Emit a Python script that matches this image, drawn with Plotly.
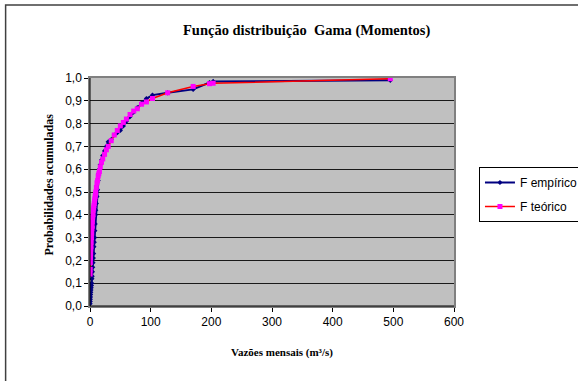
import plotly.graph_objects as go

# Monthly flows (m³/s), sorted, with empirical and fitted Gamma (method of moments) CDF
vazoes = [0.2, 0.4, 0.6, 0.8, 1.0, 1.3, 1.6, 2.0, 2.4, 2.8, 3.2, 3.6, 4.0, 4.5, 5.0,
          5.5, 6.0, 6.5, 7.0, 7.5, 8.0, 8.5, 9.0, 9.5, 10.5, 11.5, 12.5, 13.5, 14.5,
          15.5, 17, 19, 21, 24, 27, 30, 35, 40, 45, 50, 55, 60, 66, 72, 78, 85, 93,
          103, 128, 170, 197, 203, 495]
f_empirico = [0.01, 0.02, 0.03, 0.04, 0.05, 0.06, 0.07, 0.08, 0.09, 0.10, 0.12, 0.13,
              0.15, 0.17, 0.19, 0.21, 0.23, 0.26, 0.28, 0.30, 0.33, 0.36, 0.40, 0.42,
              0.45, 0.48, 0.51, 0.55, 0.58, 0.60, 0.62, 0.64, 0.66, 0.68, 0.70, 0.72,
              0.73, 0.75, 0.76, 0.77, 0.79, 0.81, 0.83, 0.85, 0.87, 0.89, 0.91, 0.925,
              0.935, 0.95, 0.98, 0.985, 0.99]
f_teorico = [0.14, 0.16, 0.19, 0.21, 0.23, 0.25, 0.26, 0.28, 0.30, 0.32, 0.34, 0.35,
             0.37, 0.39, 0.40, 0.42, 0.43, 0.44, 0.45, 0.46, 0.47, 0.48, 0.49, 0.50,
             0.52, 0.54, 0.55, 0.57, 0.58, 0.59, 0.61, 0.63, 0.645, 0.665, 0.685, 0.70,
             0.725, 0.75, 0.77, 0.79, 0.805, 0.82, 0.84, 0.855, 0.865, 0.885, 0.895,
             0.91, 0.935, 0.963, 0.975, 0.977, 0.997]

x_ticks = [0, 100, 200, 300, 400, 500, 600]

# plot-area geometry in pixels
L, R, T, B = 89.5, 454.0, 78.0, 306.0
W, H = 578, 381
pw, ph = R - L, B - T


def px(xp):
    return (xp - L) / pw


def py(yp):
    return (B - yp) / ph


fig = go.Figure()
fig.add_trace(go.Scatter(
    x=vazoes, y=f_empirico, mode="lines+markers", name="F empírico",
    legendgroup="emp",
    line=dict(color="#000080", width=2),
    marker=dict(color="#000080", size=4, symbol="diamond"),
))
fig.add_trace(go.Scatter(
    x=vazoes, y=f_teorico, mode="lines+markers", name="F teórico",
    legendgroup="teo",
    line=dict(color="#FF0000", width=1.5),
    marker=dict(color="#FF00FF", size=5, symbol="square"),
))

serif = "Liberation Serif, Times New Roman, serif"
sans = "Liberation Sans, Arial, sans-serif"

fig.update_layout(
    width=W, height=H,
    margin=dict(l=L, r=W - R, t=T, b=H - B, pad=0, autoexpand=False),
    paper_bgcolor="white",
    plot_bgcolor="#C0C0C0",
    separators=",.",
    showlegend=True,
    legend=dict(
        x=px(479), y=py(167), xanchor="left", yanchor="top",
        bordercolor="#000000", borderwidth=1, bgcolor="white",
        font=dict(family=sans, size=12, color="#000000"),
        itemwidth=30, tracegroupgap=5,
    ),
    xaxis=dict(
        range=[0, 600], tickvals=x_ticks, showgrid=False, zeroline=False,
        showline=True, linecolor="#808080", linewidth=1.5, mirror=True,
        ticks="outside", ticklen=4, tickcolor="#000000",
        tickfont=dict(family=sans, size=12, color="#000000"),
    ),
    yaxis=dict(
        range=[0, 1], dtick=0.1, tickformat=".1f", showgrid=True,
        gridcolor="#1a1a1a", gridwidth=1, zeroline=False,
        showline=True, linecolor="#808080", linewidth=1.5, mirror=True,
        ticks="outside", ticklen=4, tickcolor="#000000",
        tickfont=dict(family=sans, size=12, color="#000000"),
    ),
    annotations=[
        dict(text="<b>Função distribuição  Gama (Momentos)</b>", xref="paper", yref="paper",
             x=px(306), y=py(30), showarrow=False, xanchor="center", yanchor="middle",
             font=dict(family=serif, size=14.5, color="#000000")),
        dict(text="<b>Vazões mensais (m³/s)</b>", xref="paper", yref="paper",
             x=px(282), y=py(352), showarrow=False, xanchor="center", yanchor="middle",
             font=dict(family=serif, size=11, color="#000000")),
        dict(text="<b>Probabilidades acumuladas</b>", xref="paper", yref="paper",
             x=px(48), y=py(185), showarrow=False, xanchor="center", yanchor="middle",
             textangle=-90,
             font=dict(family=serif, size=12, color="#000000")),
    ],
    shapes=[
        # black left and bottom axis lines
        dict(type="line", xref="paper", yref="paper", x0=0, x1=0, y0=0, y1=1,
             line=dict(color="#000000", width=1)),
        dict(type="line", xref="paper", yref="paper", x0=0, x1=1, y0=0, y1=0,
             line=dict(color="#000000", width=1)),
        # chart-area frame
        dict(type="rect", xref="paper", yref="paper", x0=px(5), x1=px(W + 20),
             y0=py(H + 20), y1=py(5), line=dict(color="#404040", width=1.5),
             fillcolor="rgba(0,0,0,0)", layer="below"),
    ],
)

fig.write_html("out.html")
